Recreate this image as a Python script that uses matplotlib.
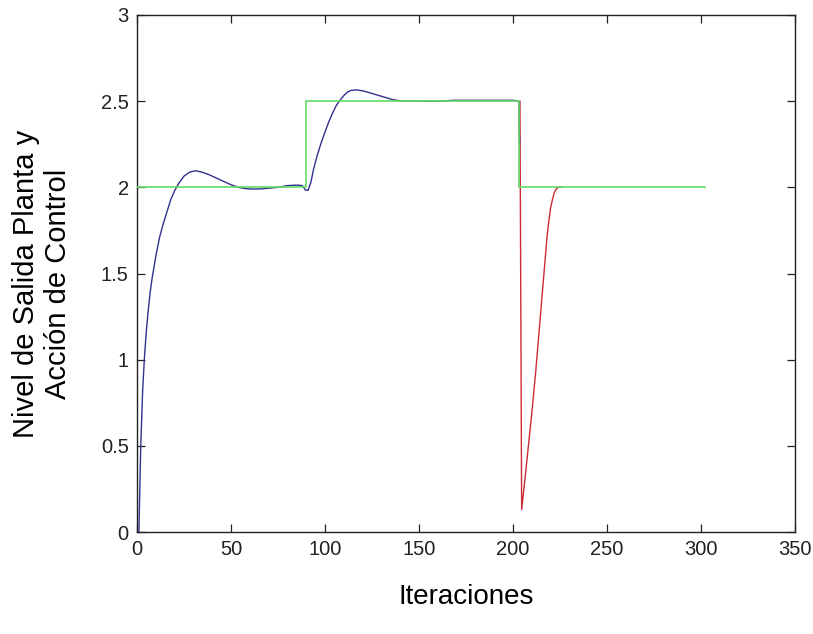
import matplotlib
matplotlib.use("Agg")
import matplotlib.pyplot as plt

plt.rcParams['font.family'] = ['Liberation Sans', 'DejaVu Sans']

# Plant output (first part of the run)
salida_x = [1, 2, 3, 4, 5, 6, 7, 8, 10, 12, 14, 16, 18, 20, 22, 25, 28, 31, 34,
            38, 42, 46, 50, 54, 58, 62, 66, 70, 75, 80, 85, 88, 89.5, 91, 92.5,
            94, 96, 98, 100, 102, 104, 106, 108, 110, 112, 114, 117, 120, 124,
            128, 132, 136, 140, 150, 160, 168, 180, 190, 200, 203, 203.5]
salida_y = [0.0, 0.5, 0.82, 1.02, 1.17, 1.29, 1.39, 1.47, 1.6, 1.71, 1.79, 1.86,
            1.93, 1.98, 2.02, 2.065, 2.088, 2.096, 2.09, 2.075, 2.055, 2.035,
            2.015, 2.0, 1.992, 1.99, 1.991, 1.995, 2.0, 2.01, 2.013, 2.01, 1.985,
            1.983, 2.03, 2.11, 2.19, 2.26, 2.32, 2.38, 2.43, 2.475, 2.505, 2.533,
            2.553, 2.563, 2.565, 2.56, 2.548, 2.535, 2.522, 2.509, 2.502, 2.5,
            2.499, 2.505, 2.505, 2.505, 2.505, 2.5, 2.25]

# Plant output after the last setpoint change
final_x = [203.7, 204.6, 206, 208, 210, 212, 214, 216, 218, 219, 220, 221,
           222, 223, 224, 226]
final_y = [2.5, 0.13, 0.27, 0.48, 0.69, 0.92, 1.18, 1.44, 1.70, 1.80, 1.88,
           1.93, 1.97, 1.99, 2.0, 2.0]

# Setpoint
ref_x = [0, 90, 90, 203, 203, 302]
ref_y = [2.0, 2.0, 2.5, 2.5, 2.0, 2.0]

x_ticks = [0, 50, 100, 150, 200, 250, 300, 350]
y_ticks = [0, 0.5, 1, 1.5, 2, 2.5, 3]
y_tick_labels = ["0", "0.5", "1", "1.5", "2", "2.5", "3"]

fig = plt.figure(figsize=(8.13, 6.34), dpi=100)
ax = fig.add_axes([137 / 813, 1 - 532 / 634, (795 - 137) / 813, (532 - 15) / 634])

ax.plot(final_x, final_y, color='#cc2b35', lw=1.0, zorder=2)
ax.plot(salida_x, salida_y, color='#30308f', lw=1.0, zorder=3)
ax.plot(ref_x, ref_y, color='#62da62', lw=1.2, zorder=4)

ax.set_xlim(0, 350)
ax.set_ylim(0, 3)
ax.set_xticks(x_ticks)
ax.set_xticklabels([str(v) for v in x_ticks])
ax.set_yticks(y_ticks)
ax.set_yticklabels(y_tick_labels)
ax.tick_params(direction='in', length=6, width=0.9, top=True, right=True,
               labelsize=14.5, pad=6, colors='#222222')
for s in ax.spines.values():
    s.set_linewidth(1.0)
    s.set_color('#222222')

fig.text(466 / 813, 1 - 597 / 634, "Iteraciones", ha='center', va='center',
         fontsize=20)
fig.text(42 / 813, 1 - 284 / 634, "Nivel de Salida Planta y\nAcción de Control",
         ha='center', va='center', rotation=90, fontsize=21,
         multialignment='center', linespacing=1.2)

fig.savefig("out.png", dpi=100)
